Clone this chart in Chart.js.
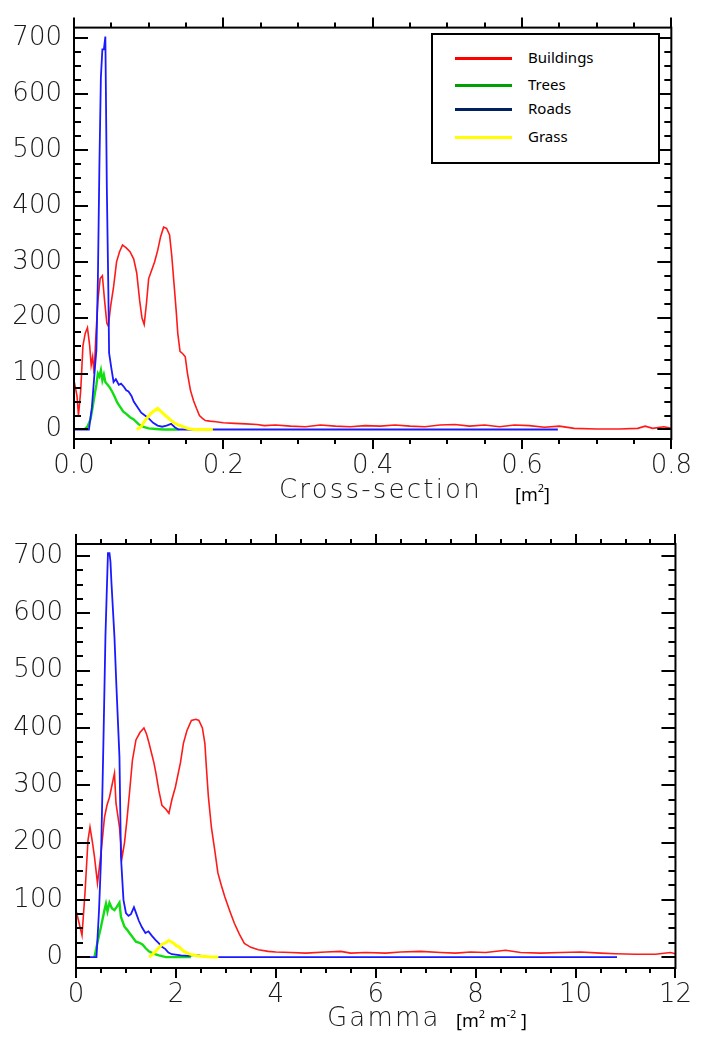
<!DOCTYPE html>
<html>
<head>
<meta charset="utf-8">
<script src="https://cdn.jsdelivr.net/npm/chart.js@4/dist/chart.umd.min.js"></script>
<style>
  body { margin: 0; background: #fff; overflow: hidden; width: 704px; height: 1037px; position: relative; }
  canvas { position: absolute; left: 0; }
  .ttl { position: absolute; font-family: "DejaVu Sans", sans-serif; font-weight: 200; font-size: 26px; line-height: 1; color: #1a1a1a; white-space: nowrap; letter-spacing: 2.2px; }
  .unit { position: absolute; font-family: "Noto Sans", "Open Sans", sans-serif; font-size: 18px; line-height: 1; color: #000; white-space: nowrap; }
  .unit sup { font-size: 11px; position: relative; top: -3px; vertical-align: top; }
  .legend { position: absolute; left: 431px; top: 33px; width: 225px; height: 127px; border: 2px solid #000; background: #fff; font-family: "Noto Sans", "Open Sans", sans-serif; font-size: 15px; }
  .legend .row { position: absolute; left: 0; height: 20px; }
  .legend .sw { position: absolute; left: 22px; width: 57px; height: 3px; top: 9px; }
  .legend .lb { position: absolute; left: 95px; top: -1px; line-height: 20px; }
</style>
</head>
<body>
<canvas id="top" width="704" height="505" style="top:0"></canvas>
<canvas id="bottom" width="704" height="532" style="top:505px"></canvas>

<div class="ttl" style="left:279px; top:476px;">Cross-section</div>
<div class="unit" style="left:515px; top:485px;">[m<sup>2</sup>]</div>
<div class="ttl" style="left:327px; top:1004px;">Gamma</div>
<div class="unit" style="left:456px; top:1011px;">[m<sup>2</sup> m<sup>-2</sup> ]</div>

<div class="legend">
  <div class="row" style="top:13px"><div class="sw" style="background:#ff0000"></div><div class="lb">Buildings</div></div>
  <div class="row" style="top:40px"><div class="sw" style="background:#00a000"></div><div class="lb">Trees</div></div>
  <div class="row" style="top:64px"><div class="sw" style="background:#002060"></div><div class="lb">Roads</div></div>
  <div class="row" style="top:92px"><div class="sw" style="background:#ffff00"></div><div class="lb">Grass</div></div>
</div>

<script>
// ---- top panel: cross-section [m2] ----
const csBuildingsX = [0.000, 0.004, 0.006, 0.009, 0.012, 0.015, 0.018, 0.021, 0.023, 0.025, 0.027, 0.029, 0.032, 0.035, 0.038, 0.041, 0.044, 0.046, 0.049, 0.053, 0.057, 0.061, 0.065, 0.070, 0.075, 0.080, 0.084, 0.088, 0.091, 0.094, 0.097, 0.100, 0.104, 0.108, 0.112, 0.116, 0.120, 0.124, 0.128, 0.131, 0.134, 0.137, 0.139, 0.142, 0.146, 0.149, 0.152, 0.156, 0.160, 0.164, 0.168, 0.172, 0.176, 0.182, 0.190, 0.200, 0.215, 0.230, 0.245, 0.255, 0.270, 0.290, 0.310, 0.330, 0.350, 0.370, 0.390, 0.410, 0.430, 0.450, 0.470, 0.490, 0.510, 0.530, 0.550, 0.570, 0.590, 0.610, 0.630, 0.650, 0.670, 0.700, 0.730, 0.755, 0.765, 0.775, 0.790, 0.800];
const csBuildings  = [88, 60, 25, 70, 150, 172, 182, 150, 115, 130, 100, 160, 230, 270, 275, 230, 190, 185, 220, 255, 300, 318, 330, 325, 318, 305, 280, 230, 200, 188, 225, 270, 285, 300, 320, 345, 362, 360, 348, 310, 260, 210, 172, 140, 135, 130, 100, 70, 52, 38, 25, 20, 16, 15, 14, 12, 11, 10, 9, 7, 8, 6, 5, 8, 6, 5, 7, 6, 8, 6, 5, 8, 9, 6, 8, 5, 8, 7, 4, 6, 2, 1, 1, 2, 6, 2, 5, 2];

const csTreesX = [0.014, 0.018, 0.022, 0.025, 0.028, 0.030, 0.032, 0.034, 0.036, 0.038, 0.040, 0.042, 0.045, 0.048, 0.051, 0.054, 0.058, 0.062, 0.066, 0.070, 0.075, 0.080, 0.086, 0.092, 0.100, 0.110, 0.120, 0.140];
const csTrees  = [0, 5, 18, 40, 65, 80, 100, 95, 106, 88, 98, 85, 80, 75, 68, 60, 48, 40, 32, 28, 22, 18, 10, 5, 2, 1, 0, 0];

const csRoadsX = [0.000, 0.020, 0.024, 0.028, 0.030, 0.032, 0.034, 0.036, 0.038, 0.040, 0.042, 0.044, 0.046, 0.047, 0.050, 0.053, 0.056, 0.060, 0.063, 0.067, 0.070, 0.073, 0.077, 0.080, 0.086, 0.090, 0.095, 0.100, 0.106, 0.112, 0.118, 0.124, 0.130, 0.135, 0.140, 0.648];
const csRoads  = [0, 0, 40, 110, 142, 270, 470, 630, 680, 680, 703, 430, 250, 137, 110, 85, 90, 80, 82, 76, 70, 68, 60, 50, 38, 30, 25, 20, 12, 7, 5, 7, 10, 4, 0, 0];

const csGrassX = [0.084, 0.090, 0.095, 0.100, 0.104, 0.108, 0.112, 0.116, 0.120, 0.126, 0.130, 0.134, 0.140, 0.146, 0.152, 0.160, 0.186];
const csGrass  = [0, 5, 16, 24, 30, 34, 38, 33, 28, 21, 16, 12, 8, 5, 2, 0, 0];

// ---- bottom panel: gamma [m2 m-2] ----
const gBuildingsX = [0, 0.06, 0.12, 0.18, 0.24, 0.28, 0.33, 0.37, 0.43, 0.50, 0.57, 0.62, 0.67, 0.72, 0.77, 0.80, 0.87, 0.92, 0.97, 1.02, 1.07, 1.13, 1.20, 1.28, 1.36, 1.41, 1.46, 1.56, 1.60, 1.66, 1.72, 1.80, 1.86, 1.92, 1.99, 2.09, 2.15, 2.22, 2.31, 2.40, 2.46, 2.53, 2.58, 2.61, 2.65, 2.71, 2.78, 2.84, 2.91, 2.98, 3.08, 3.17, 3.27, 3.37, 3.50, 3.65, 3.85, 4.0, 4.3, 4.6, 5.0, 5.3, 5.5, 5.8, 6.2, 6.5, 6.9, 7.3, 7.6, 7.9, 8.2, 8.6, 8.9, 9.3, 9.7, 10.1, 10.5, 10.8, 11.2, 11.6, 11.9, 12.0];
const gBuildings  = [82, 60, 38, 112, 204, 227, 200, 175, 129, 181, 244, 265, 279, 300, 321, 269, 227, 173, 199, 240, 286, 344, 379, 392, 400, 390, 374, 339, 321, 290, 265, 258, 251, 275, 297, 339, 373, 395, 413, 415, 413, 400, 373, 331, 280, 227, 185, 147, 125, 105, 80, 59, 40, 24, 17, 13, 10, 9, 8, 7, 9, 10, 7, 8, 7, 9, 10, 8, 7, 9, 8, 12, 8, 7, 8, 9, 7, 6, 5, 5, 8, 6];

const gTreesX = [0.37, 0.44, 0.50, 0.57, 0.60, 0.63, 0.67, 0.72, 0.77, 0.82, 0.87, 0.90, 0.97, 1.02, 1.07, 1.13, 1.20, 1.27, 1.33, 1.40, 1.46, 1.55, 1.66, 1.80, 2.30];
const gTrees  = [0, 30, 53, 82, 93, 80, 95, 85, 82, 88, 95, 70, 53, 48, 42, 35, 27, 25, 22, 15, 10, 6, 3, 0, 0];

const gRoadsX = [0, 0.41, 0.46, 0.50, 0.55, 0.59, 0.62, 0.64, 0.67, 0.69, 0.71, 0.77, 0.81, 0.87, 0.90, 0.95, 1.00, 1.05, 1.10, 1.16, 1.21, 1.26, 1.32, 1.39, 1.45, 1.52, 1.59, 1.66, 1.72, 1.79, 1.85, 1.92, 2.10, 2.25, 2.40, 2.60, 2.80, 10.83];
const gRoads  = [0, 0, 80, 169, 380, 562, 650, 705, 705, 690, 653, 558, 471, 349, 175, 100, 77, 72, 75, 87, 75, 63, 52, 42, 45, 37, 30, 24, 18, 14, 8, 5, 3, 2, 4, 1, 0, 0];

const gGrassX = [1.46, 1.52, 1.59, 1.65, 1.72, 1.79, 1.86, 1.92, 1.96, 2.01, 2.06, 2.11, 2.16, 2.25, 2.33, 2.45, 2.59, 2.70, 2.85];
const gGrass  = [0, 4, 10, 16, 22, 25, 29, 26, 24, 20, 18, 14, 10, 6, 4, 2, 1, 0, 0];

// tick labels shared by both panels' y axes
const yTickValues = [0, 100, 200, 300, 400, 500, 600, 700];

const tickFont = { family: "'DejaVu Sans', sans-serif", size: 26, weight: "200" };
const tickColor = "#1a1a1a";

const pts = (xs, ys) => xs.map((x, i) => ({ x: x, y: ys[i] }));

// frame with inward y ticks and outward x ticks, like the original plot
const frameTicks = {
  id: "frameTicks",
  afterDraw(chart, args, opts) {
    const { ctx, chartArea: a, scales: { x, y } } = chart;
    ctx.save();
    ctx.strokeStyle = "#000";
    ctx.lineWidth = 2;
    ctx.strokeRect(a.left, a.top, a.right - a.left, a.bottom - a.top);
    ctx.beginPath();
    for (let i = Math.ceil(x.min / opts.xMinor - 1e-9); i * opts.xMinor <= x.max + 1e-9; i++) {
      const v = i * opts.xMinor;
      const r = v / opts.xMajor;
      const len = Math.abs(r - Math.round(r)) < 1e-6 ? 10 : 5;
      const px = Math.round(x.getPixelForValue(v));
      ctx.moveTo(px, a.top); ctx.lineTo(px, a.top - len);
      ctx.moveTo(px, a.bottom); ctx.lineTo(px, a.bottom + len);
    }
    for (let i = Math.ceil(y.min / opts.yMinor); i * opts.yMinor <= y.max; i++) {
      const v = i * opts.yMinor;
      const len = v % opts.yMajor === 0 ? 14 : 7;
      const py = Math.round(y.getPixelForValue(v));
      ctx.moveTo(a.left, py); ctx.lineTo(a.left + len, py);
      ctx.moveTo(a.right, py); ctx.lineTo(a.right - len, py);
    }
    ctx.stroke();
    ctx.restore();
  }
};

const makeChart = (node, series, cfg) => new Chart(node, {
  type: "line",
  data: {
    datasets: [
      { data: series.grass, borderColor: "#ffff00", borderWidth: 3 },
      { data: series.roads, borderColor: "#1a1aff", borderWidth: 1.8 },
      { data: series.trees, borderColor: "#11dd11", borderWidth: 2.4 },
      { data: series.buildings, borderColor: "#ff1a1a", borderWidth: 1.6 }
    ].map(d => Object.assign(d, { pointRadius: 0, tension: 0, fill: false }))
  },
  plugins: [frameTicks],
  options: {
    responsive: false,
    animation: false,
    layout: { autoPadding: false, padding: cfg.padding },
    plugins: {
      legend: { display: false },
      tooltip: { enabled: false },
      frameTicks: cfg.ticks
    },
    scales: {
      x: {
        type: "linear",
        min: cfg.xMin,
        max: cfg.xMax,
        grid: { display: false, drawTicks: false },
        border: { display: false },
        ticks: {
          stepSize: cfg.xStep,
          padding: cfg.xPad,
          maxRotation: 0,
          font: tickFont,
          color: tickColor,
          callback: cfg.xFormat
        },
        afterFit: (s) => { s.height = cfg.xHeight; }
      },
      y: {
        min: cfg.yMin,
        max: cfg.yMax,
        grid: { display: false, drawTicks: false },
        border: { display: false },
        ticks: { padding: cfg.yPad, font: tickFont, color: tickColor },
        afterBuildTicks: (s) => { s.ticks = yTickValues.map(v => ({ value: v })); },
        afterFit: (s) => { s.width = cfg.yWidth; }
      }
    }
  }
});

makeChart(document.getElementById("top"), {
  buildings: pts(csBuildingsX, csBuildings),
  trees: pts(csTreesX, csTrees),
  roads: pts(csRoadsX, csRoads),
  grass: pts(csGrassX, csGrass)
}, {
  padding: { left: 0, top: 15, right: 17, bottom: 0 },
  xMin: 0, xMax: 0.8, xStep: 0.2, xPad: 12, xHeight: 66,
  xFormat: (v) => v.toFixed(1),
  yMin: -17, yMax: 719, yPad: 12, yWidth: 74,
  ticks: { xMinor: 0.05, xMajor: 0.2, yMinor: 25, yMajor: 100 }
});

makeChart(document.getElementById("bottom"), {
  buildings: pts(gBuildingsX, gBuildings),
  trees: pts(gTreesX, gTrees),
  roads: pts(gRoadsX, gRoads),
  grass: pts(gGrassX, gGrass)
}, {
  padding: { left: 0, top: 39, right: 20, bottom: 0 },
  xMin: 0, xMax: 12, xStep: 2, xPad: 12, xHeight: 69,
  xFormat: (v) => String(Math.round(v)),
  yMin: -19, yMax: 721, yPad: 13, yWidth: 76,
  ticks: { xMinor: 0.5, xMajor: 2, yMinor: 25, yMajor: 100 }
});
</script>
</body>
</html>
